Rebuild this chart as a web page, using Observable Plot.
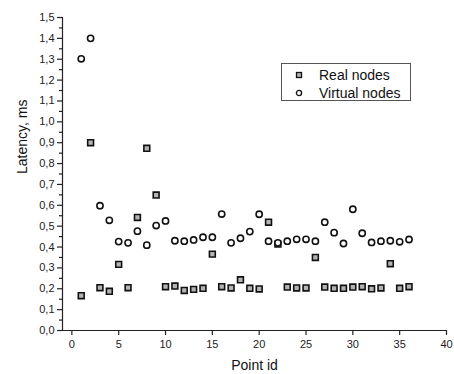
<!DOCTYPE html>
<html><head><meta charset="utf-8">
<script src="https://cdn.jsdelivr.net/npm/d3@7"></script>
<script src="https://cdn.jsdelivr.net/npm/@observablehq/plot@0.6"></script>
<style>
body{margin:0;background:#fff;font-family:"Liberation Sans",Arial,sans-serif;}
#wrap{position:relative;width:454px;height:374px;}
#legend{position:absolute;left:281px;top:63px;width:128px;height:36px;border:1px solid #555;background:#fff;font-size:14px;color:#111;}
#legend .row{position:absolute;left:0;height:18px;line-height:18px;}
#legend svg{position:absolute;left:12px;top:4px;}
#legend span{position:absolute;left:37px;top:0;white-space:nowrap;}
</style></head>
<body><div id="wrap"><div id="legend"></div></div>
<script>
const pointIds = d3.range(1, 37);
const realNodes = [0.167,0.90,0.205,0.188,0.317,0.205,0.542,0.873,0.649,0.21,0.213,0.192,0.197,0.202,0.366,0.21,0.204,0.243,0.202,0.199,0.519,0.414,0.208,0.204,0.204,0.35,0.208,0.202,0.202,0.208,0.21,0.2,0.204,0.32,0.202,0.21];
const virtualNodes = [1.302,1.40,0.598,0.528,0.426,0.42,0.476,0.409,0.503,0.525,0.43,0.428,0.434,0.447,0.447,0.558,0.42,0.442,0.474,0.557,0.428,0.42,0.428,0.437,0.437,0.428,0.519,0.469,0.417,0.581,0.466,0.422,0.428,0.43,0.425,0.436];
const seriesNames = ["Real nodes", "Virtual nodes"];
const xTicks = d3.range(0, 41, 5);
const yTicks = d3.range(0, 1.51, 0.1).map(v => +v.toFixed(2));
const yMinor = d3.range(0.05, 1.5, 0.1).map(v => +v.toFixed(2));

const real = pointIds.map((id, i) => ({id, v: realNodes[i]}));
const virt = pointIds.map((id, i) => ({id, v: virtualNodes[i]}));
const ink = "#222";

const chart = Plot.plot({
  width: 454, height: 374,
  marginLeft: 62, marginRight: 8, marginTop: 17, marginBottom: 44,
  x: {domain: [-1, 40]},
  y: {domain: [0, 1.5]},
  style: {fontFamily: "Liberation Sans, Arial, sans-serif", fontSize: "11px", color: ink, background: "white"},
  marks: [
    Plot.axisY({ticks: yTicks, tickSize: 5, tickPadding: 3, tickFormat: d => d.toFixed(1).replace(".", ","), label: null, stroke: ink, strokeWidth: 1.2}),
    Plot.axisY({ticks: yMinor, tickSize: 3, text: null, label: null, stroke: ink, strokeWidth: 1.2}),
    Plot.axisX({ticks: xTicks, tickSize: 5, tickPadding: 5, label: null, stroke: ink, strokeWidth: 1.2}),
    Plot.ruleY([0], {stroke: ink, strokeWidth: 1.2}),
    Plot.ruleX([-1], {stroke: ink, strokeWidth: 1.2}),
    Plot.text(["Point id"], {frameAnchor: "bottom", dy: 35, fontSize: 14, lineAnchor: "middle", fill: "#111"}),
    Plot.text(["Latency, ms"], {frameAnchor: "left", rotate: -90, dx: -40, fontSize: 14, lineAnchor: "middle", fill: "#111"}),
    Plot.dot(real, {x: "id", y: "v", symbol: "square", r: 3.3, fill: "#b4b4b4", stroke: "#111", strokeWidth: 1.6}),
    Plot.dot(virt, {x: "id", y: "v", symbol: "circle", r: 3.1, fill: "white", stroke: "#111", strokeWidth: 1.6})
  ]
});
document.getElementById("wrap").prepend(chart);

const legend = document.getElementById("legend");
seriesNames.forEach((name, i) => {
  const row = document.createElement("div");
  row.className = "row";
  row.style.top = (2 + i * 18) + "px";
  row.style.width = "128px";
  const marker = i === 0
    ? '<svg width="10" height="10"><rect x="2.5" y="2.5" width="5" height="5" fill="#b4b4b4" stroke="#111" stroke-width="1.3"/></svg>'
    : '<svg width="10" height="10"><circle cx="5" cy="5" r="2.6" fill="white" stroke="#111" stroke-width="1.3"/></svg>';
  row.innerHTML = marker + "<span>" + name + "</span>";
  legend.appendChild(row);
});
</script></body></html>
